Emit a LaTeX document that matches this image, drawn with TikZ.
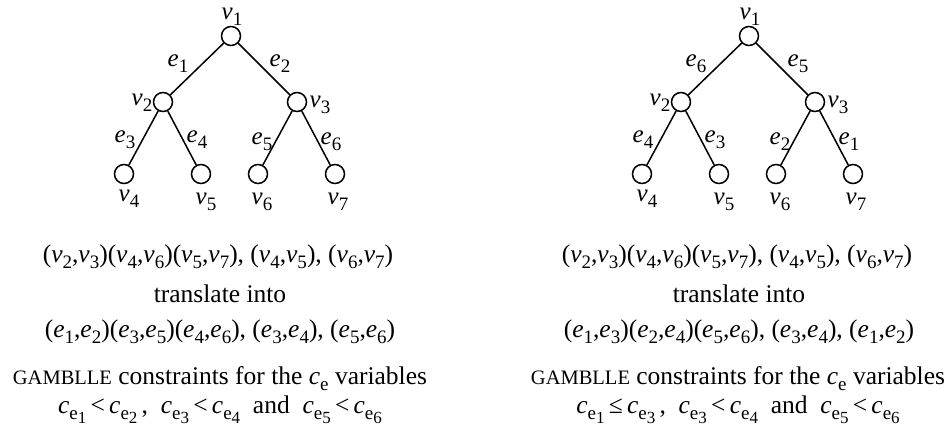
\documentclass[tikz,border=0pt]{standalone}
\usepackage{fontspec}
\setmainfont{Liberation Serif}
\newcommand\ssb[1]{\raisebox{-6pt}{\fontsize{19}{19}\selectfont #1}}
\newcommand\V[1]{\textit{v}\ssb{#1}}
\newcommand\E[1]{\textit{e}\ssb{#1}}
\newcommand\CE[1]{\textit{c}\raisebox{-6.5pt}{\fontsize{19}{19}\selectfont e\raisebox{-4pt}{\fontsize{17}{17}\selectfont #1}}}
\newcommand\lt{\,<\,}
\begin{document}
\begin{tikzpicture}[x=1pt,y=-1pt,
  vert/.style={circle,draw,line width=1.5pt,minimum size=19pt,inner sep=0pt},
  edge/.style={line width=1.5pt},
  lab/.style={inner sep=0pt,font=\fontsize{25}{30}\selectfont},
  txt/.style={inner sep=0pt,anchor=base,font=\fontsize{25.5}{30}\selectfont}]
\useasboundingbox (0,0) rectangle (951,432);
\foreach \s/\dx in {L/0,R/518}{
  \node[vert] (\s1) at (231+\dx,36) {};
  \node[vert] (\s2) at (163+\dx,102) {};
  \node[vert] (\s3) at (297+\dx,102) {};
  \node[vert] (\s4) at (124+\dx,174) {};
  \node[vert] (\s5) at (201+\dx,174) {};
  \node[vert] (\s6) at (258+\dx,174) {};
  \node[vert] (\s7) at (335+\dx,174) {};
  \draw[edge] (\s1) -- (\s2);
  \draw[edge] (\s1) -- (\s3);
  \draw[edge] (\s2) -- (\s4);
  \draw[edge] (\s2) -- (\s5);
  \draw[edge] (\s3) -- (\s6);
  \draw[edge] (\s3) -- (\s7);
  \node[lab] (\s lv1) at (232+\dx,17) {\V{1}};
  \node[lab] (\s lv2) at (142+\dx,103) {\V{2}};
  \node[lab] (\s lv3) at (320+\dx,105) {\V{3}};
  \node[lab] (\s lv4) at (129+\dx,199) {\V{4}};
  \node[lab] (\s lv5) at (206+\dx,202) {\V{5}};
  \node[lab] (\s lv6) at (262+\dx,202) {\V{6}};
  \node[lab] (\s lv7) at (338+\dx,202) {\V{7}};
}
% left edge labels
\node[lab] (Le1) at (178,64) {\E{1}};
\node[lab] (Le2) at (280,64) {\E{2}};
\node[lab] (Le3) at (125,140) {\E{3}};
\node[lab] (Le4) at (197,140) {\E{4}};
\node[lab] (Le5) at (262,142) {\E{5}};
\node[lab] (Le6) at (331,142) {\E{6}};
% right edge labels
\node[lab] (Re1) at (696,64) {\E{6}};
\node[lab] (Re2) at (798,64) {\E{5}};
\node[lab] (Re3) at (643,140) {\E{4}};
\node[lab] (Re4) at (715,140) {\E{3}};
\node[lab] (Re5) at (780,142) {\E{2}};
\node[lab] (Re6) at (849,142) {\E{1}};
% left text
\node[txt] (Lt1) at (218,262) {(\V{2},\V{3})(\V{4},\V{6})(\V{5},\V{7}), (\V{4},\V{5}), (\V{6},\V{7})};
\node[txt] (Lt2) at (220,302) {translate into};
\node[txt] (Lt3) at (220,337) {(\E{1},\E{2})(\E{3},\E{5})(\E{4},\E{6}), (\E{3},\E{4}), (\E{5},\E{6})};
\node[txt] (Lt4) at (220,384) {{\fontsize{20.5}{20}\selectfont GAMBLLE} constraints for the \textit{c}\raisebox{-6pt}{\fontsize{19}{19}\selectfont e} variables};
\node[txt] (Lt5) at (220,413) {\CE{1}\lt\CE{2}\,,\ \ \CE{3}\lt\CE{4}\ \ and\ \ \CE{5}\lt\CE{6}};
% right text
\node[txt] (Rt1) at (737,262) {(\V{2},\V{3})(\V{4},\V{6})(\V{5},\V{7}), (\V{4},\V{5}), (\V{6},\V{7})};
\node[txt] (Rt2) at (739,302) {translate into};
\node[txt] (Rt3) at (739,337) {(\E{1},\E{3})(\E{2},\E{4})(\E{5},\E{6}), (\E{3},\E{4}), (\E{1},\E{2})};
\node[txt] (Rt4) at (738,384) {{\fontsize{20.5}{20}\selectfont GAMBLLE} constraints for the \textit{c}\raisebox{-6pt}{\fontsize{19}{19}\selectfont e} variables};
\node[txt] (Rt5) at (738,413) {\CE{1}\,≤\,\CE{3}\,,\ \ \CE{3}\lt\CE{4}\ \ and\ \ \CE{5}\lt\CE{6}};
\end{tikzpicture}
\end{document}
